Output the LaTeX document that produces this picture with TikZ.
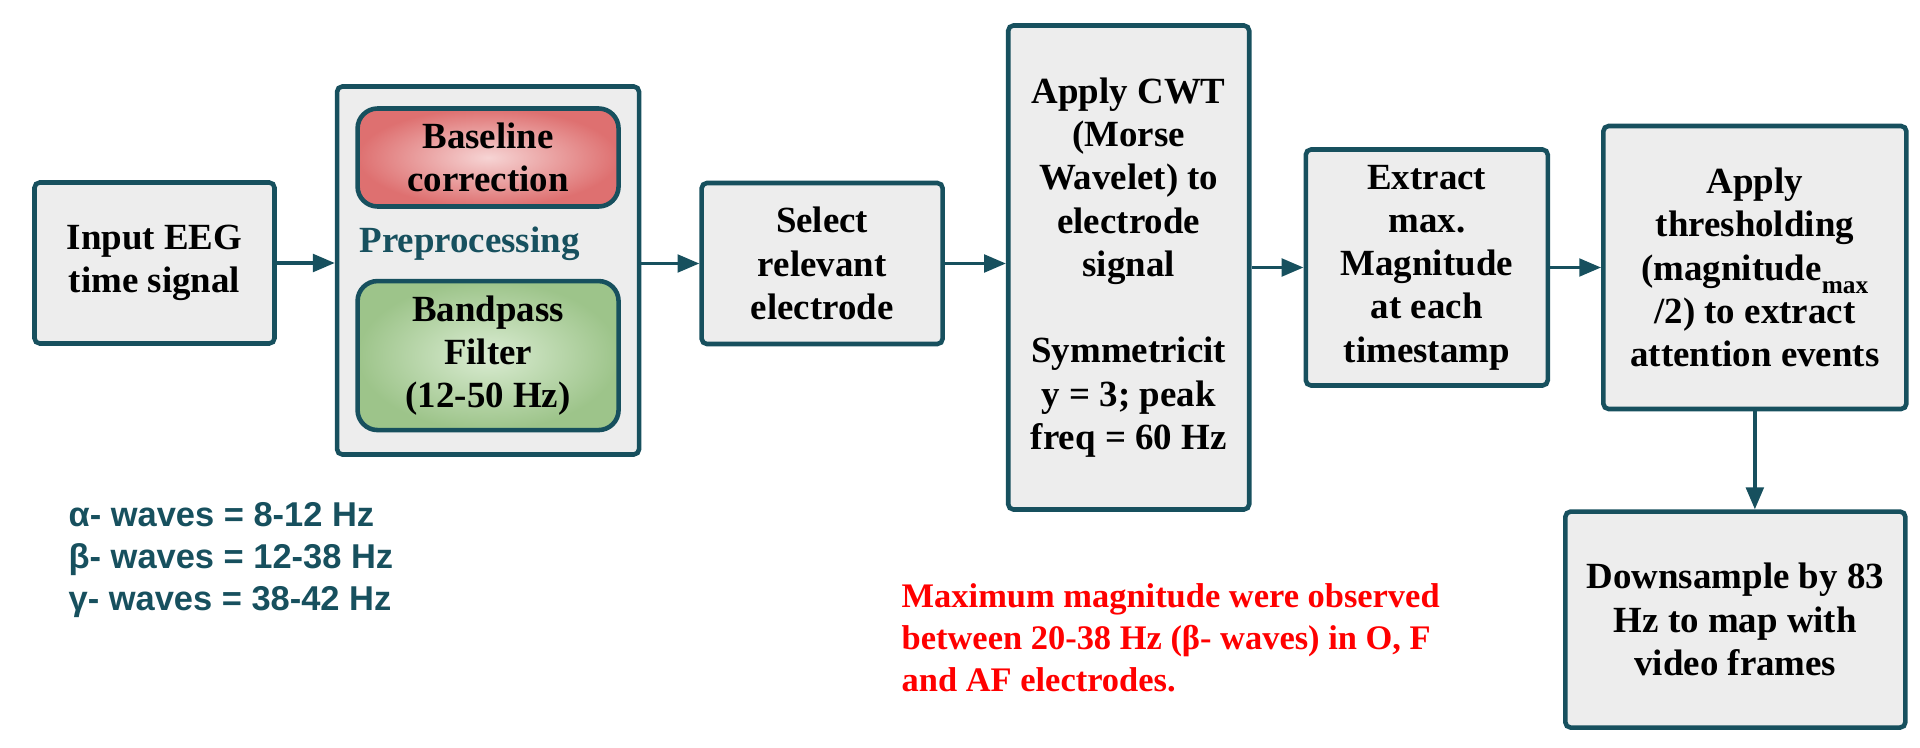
\documentclass[tikz,border=0pt]{standalone}
\usepackage{fontspec}
\setmainfont{Liberation Serif}
\newfontfamily\wavefont{Liberation Sans}
\usepackage{xcolor}
\usepackage{tikz}
\usetikzlibrary{arrows.meta, positioning}
\definecolor{edgeteal}{RGB}{23,80,94}
\definecolor{boxgray}{RGB}{237,237,237}
\definecolor{redout}{RGB}{222,112,112}
\definecolor{redin}{RGB}{246,212,212}
\definecolor{greenout}{RGB}{157,196,138}
\definecolor{greenin}{RGB}{218,236,210}
\tikzstyle{process} = [rectangle, rounded corners=1.5pt, minimum width=2.4cm, minimum height=1.61cm, text centered, align=center, draw=edgeteal, fill=boxgray, line width=1.3pt, inner sep=0pt, font=\fontsize{10.5}{12.3}\selectfont\bfseries]
\tikzstyle{group} = [process, minimum width=3.02cm, minimum height=3.68cm]
\tikzstyle{redstage} = [process, rounded corners=0.2cm, minimum width=2.61cm, minimum height=0.98cm, inner color=redin, outer color=redout]
\tikzstyle{greenstage} = [process, rounded corners=0.2cm, minimum width=2.61cm, minimum height=1.49cm, inner color=greenin, outer color=greenout]
\tikzstyle{arrow} = [line width=0.95pt, ->, >={Triangle[length=6.2pt, width=5pt]}, draw=edgeteal]
\tikzstyle{note} = [anchor=north west, inner sep=0pt, align=left, font=\fontsize{9.8}{11.9}\selectfont\bfseries]

\begin{document}
\begin{tikzpicture}[node distance=0.58cm]
    \useasboundingbox (0,0) rectangle (19.2,-7.48);
    \node (input) [process] at (1.545,-2.63) {Input EEG\\time signal};
    \node (prep) [group, right=0.58cm of input, yshift=-0.075cm] {};
    \node (base) [redstage, below=0.22cm of prep.north] {Baseline\\correction};
    \node (band) [greenstage, below=0.70cm of base] {Bandpass\\Filter\\(12-50 Hz)};
    \node (preplabel) [right=0.24cm of prep.west, yshift=0.265cm, inner sep=0pt, text=edgeteal, font=\fontsize{10.5}{12.3}\selectfont\bfseries] {Preprocessing};
    \node (select) [process, minimum width=2.41cm, right=0.58cm of prep, yshift=0.07cm] {Select\\relevant\\electrode};
    \node (cwt) [process, minimum width=2.41cm, minimum height=4.84cm, right=0.61cm of select, yshift=-0.04cm] {Apply CWT\\(Morse\\Wavelet) to\\electrode\\signal\\[12.3pt]Symmetricit\\y = 3; peak\\freq = 60 Hz};
    \node (extract) [process, minimum width=2.42cm, minimum height=2.36cm, right=0.52cm of cwt] {Extract\\max.\\Magnitude\\at each\\timestamp};
    \node (thresh) [process, minimum width=3.03cm, minimum height=2.83cm, right=0.51cm of extract] {Apply\\thresholding\\(magnitude\raisebox{-3.8pt}{\fontsize{7.2}{7.2}\selectfont max}\\/2) to extract\\attention events};
    \node (down) [process, minimum width=3.4cm, minimum height=2.16cm, below=0.98cm of thresh, xshift=-0.195cm] {Downsample by 83\\Hz to map with\\video frames};
    \node (waves) [note, text=edgeteal, font=\wavefont\fontsize{9.8}{11.9}\selectfont\bfseries] at (0.68,-5.02) {α- waves = 8-12 Hz\\β- waves = 12-38 Hz\\γ- waves = 38-42 Hz};
    \node (finding) [note, text=red] at (9.01,-5.83) {Maximum magnitude were observed\\between 20-38 Hz (β- waves) in O, F\\and AF electrodes.};

    \draw [arrow] (input.east) -- (input.east -| prep.west);
    \draw [arrow] (select.west -| prep.east) -- (select.west);
    \draw [arrow] (select.east) -- (select.east -| cwt.west);
    \draw [arrow] (cwt.east) -- (extract.west);
    \draw [arrow] (extract.east) -- (thresh.west);
    \draw [arrow] (thresh.south) -- (thresh.south |- down.north);
\end{tikzpicture}
\end{document}
